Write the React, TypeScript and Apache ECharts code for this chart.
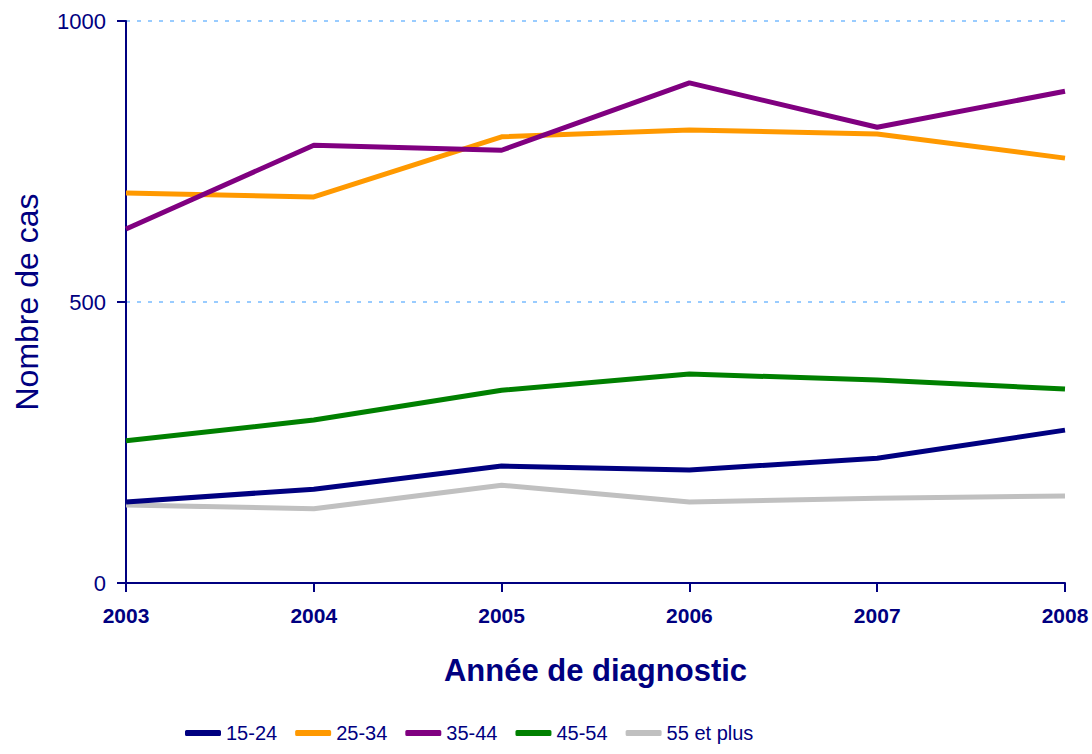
import React, { useEffect, useRef } from "react";
import * as echarts from "echarts";

const years = ["2003", "2004", "2005", "2006", "2007", "2008"];
const s15_24 = [144, 167, 208, 201, 222, 272];
const s25_34 = [694, 687, 794, 806, 799, 756];
const s35_44 = [630, 779, 770, 890, 811, 875];
const s45_54 = [253, 290, 343, 372, 361, 345];
const s55plus = [139, 132, 174, 144, 151, 155];
const seriesNames = ["15-24", "25-34", "35-44", "45-54", "55 et plus"];
const seriesColors = ["#000080", "#FF9900", "#800080", "#008000", "#C0C0C0"];
const yTicks = [0, 500, 1000];

const FONT = "'Liberation Sans Narrow', 'Liberation Sans', Arial, sans-serif";
const NAVY = "#000080";

export default function App() {
  const ref = useRef<HTMLDivElement>(null);
  useEffect(() => {
    if (!ref.current) return;
    const chart = echarts.init(ref.current, undefined, { renderer: "svg" });
    const data = [s15_24, s25_34, s35_44, s45_54, s55plus];
    chart.setOption({
      animation: false,
      textStyle: { fontFamily: FONT },
      grid: { left: 126, right: 27, top: 21, bottom: 171, containLabel: false, outerBoundsMode: "none" },
      legend: {
        bottom: 6,
        left: 180,
        itemWidth: 36,
        itemHeight: 6,
        itemGap: 18,
        icon: "roundRect",
        textStyle: { color: NAVY, fontSize: 20, fontFamily: FONT },
        data: seriesNames,
      },
      xAxis: {
        type: "category",
        data: years,
        boundaryGap: false,
        name: "Année de diagnostic",
        nameLocation: "middle",
        nameGap: 72,
        nameTextStyle: { color: NAVY, fontSize: 31, fontWeight: "bold", fontFamily: FONT },
        axisLine: { lineStyle: { color: NAVY, width: 2 } },
        axisTick: { show: true, length: 9, lineStyle: { color: NAVY, width: 2 }, alignWithLabel: true },
        axisLabel: { color: NAVY, fontSize: 21, fontWeight: "bold", margin: 22, fontFamily: FONT },
        splitLine: { show: false },
      },
      yAxis: {
        type: "value",
        min: yTicks[0],
        max: yTicks[yTicks.length - 1],
        interval: 500,
        name: "Nombre de cas",
        nameLocation: "middle",
        nameGap: 83,
        nameTextStyle: { color: NAVY, fontSize: 32, fontFamily: FONT },
        axisLine: { show: true, lineStyle: { color: NAVY, width: 2 } },
        axisTick: { show: true, length: 9, lineStyle: { color: NAVY, width: 2 } },
        axisLabel: { color: NAVY, fontSize: 22, margin: 20, fontFamily: FONT, formatter: (v: number) => String(v) },
        splitLine: { show: true, lineStyle: { color: "#99CCFF", width: 2, type: [4, 7] } },
      },
      series: seriesNames.map((n, i) => ({
        name: n,
        type: "line",
        data: data[i],
        symbol: "none",
        lineStyle: { color: seriesColors[i], width: 5 },
        itemStyle: { color: seriesColors[i] },
        z: i === 0 ? 10 : 2,
      })),
    });
    return () => chart.dispose();
  }, []);
  return <div ref={ref} style={{ width: 1092, height: 754, position: "absolute", left: 0, top: 0 }} />;
}
